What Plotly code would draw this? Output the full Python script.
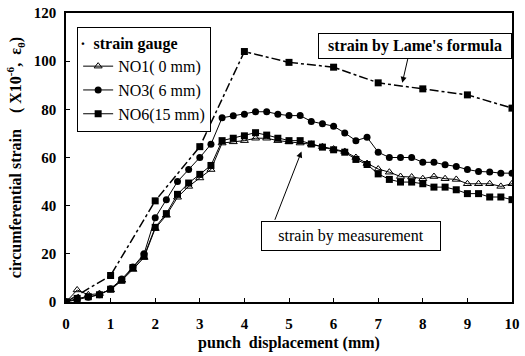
import plotly.graph_objects as go

disp = [0, 0.25, 0.5, 0.75, 1, 1.25, 1.5, 1.75, 2, 2.25, 2.5, 2.75, 3, 3.25, 3.5, 3.75,
        4, 4.25, 4.5, 4.75, 5, 5.25, 5.5, 5.75, 6, 6.25, 6.5, 6.75, 7, 7.25, 7.5, 7.75,
        8, 8.25, 8.5, 8.75, 9, 9.25, 9.5, 9.75, 10]

no1 = [0, 5, 3, 3.5, 5, 9, 13.5, 18.5, 30.5, 36, 43.5, 48, 51.5, 55, 66, 66.5,
       67, 68, 68, 67, 66.5, 66, 65.5, 64.5, 63.5, 62.5, 60, 57.5, 55.2, 53.9, 52.1, 51.9,
       51.2, 52.1, 51.2, 50.9, 49.1, 49.1, 49.1, 48, 49.1]

no3 = [0, 1, 2, 3, 5.5, 9.5, 14.5, 20, 35, 42.5, 50, 55, 60, 65.5, 76.5, 77.3,
       78, 79, 79, 78, 77.4, 77.4, 75, 74, 73, 70.2, 67, 68.4, 62.2, 60, 60, 60,
       58, 58, 57, 56.3, 55, 54.2, 54, 53.5, 53.5]

no6 = [0, 1.5, 2.2, 3, 5.3, 9, 14.3, 19, 31, 36.7, 44.7, 49.4, 53, 56.7, 67, 68,
       69, 70.3, 69.3, 68, 67, 67, 65.6, 64.3, 63.2, 62.2, 59.2, 57.1, 53.2, 50.9, 49.8, 49.8,
       49.1, 47.7, 47.7, 46.6, 45, 45, 43.6, 43.6, 42.5]

lame_x = [0, 1, 2, 3, 4, 5, 6, 7, 8, 9, 10]
lame_y = [0, 11, 42, 64.5, 104, 99.5, 97.5, 91, 88.5, 86, 80.5]

x_ticks = [0, 1, 2, 3, 4, 5, 6, 7, 8, 9, 10]
y_ticks = [0, 20, 40, 60, 80, 100, 120]

SERIF = "Liberation Serif"

fig = go.Figure()
fig.add_trace(go.Scatter(x=disp, y=no1, mode="lines+markers", name="NO1( 0 mm)",
                         legendrank=1,
                         line=dict(color="black", width=1),
                         marker=dict(symbol="triangle-up-open", size=7, color="black",
                                     line=dict(width=1, color="black"))))
fig.add_trace(go.Scatter(x=disp, y=no6, mode="lines+markers", name="NO6(15 mm)",
                         legendrank=3,
                         line=dict(color="black", width=1),
                         marker=dict(symbol="square", size=7, color="black")))
fig.add_trace(go.Scatter(x=disp, y=no3, mode="lines+markers", name="NO3( 6 mm)",
                         legendrank=2,
                         line=dict(color="black", width=1),
                         marker=dict(symbol="circle", size=7, color="black")))
fig.add_trace(go.Scatter(x=lame_x, y=lame_y, mode="lines+markers", name="Lame",
                         showlegend=False,
                         line=dict(color="black", width=1.5, dash="dashdot"),
                         marker=dict(symbol="square", size=7, color="black")))

fig.update_layout(
    width=525, height=356,
    margin=dict(l=66, r=5, t=12, b=54),
    paper_bgcolor="white", plot_bgcolor="white",
    font=dict(family=SERIF, size=13, color="black"),
    showlegend=True,
    legend=dict(x=0.025, y=0.95, xanchor="left", yanchor="top",
                bgcolor="white", bordercolor="black", borderwidth=1,
                font=dict(family=SERIF, size=16),
                title=dict(text="<b>·  strain gauge</b>", font=dict(family=SERIF, size=16)),
                itemwidth=30),
    xaxis=dict(range=[0, 10], tickvals=x_ticks, ticktext=[str(v) for v in x_ticks],
               showgrid=False, zeroline=False, showline=True, linecolor="black", linewidth=1.5,
               mirror=True, ticks="inside", ticklen=4, tickcolor="black",
               ticklabelstandoff=7, ticklabeloverflow="allow",
               tickfont=dict(family=SERIF, size=15, weight="bold"),
               title=dict(text="<b>punch  displacement (mm)</b>", font=dict(family=SERIF, size=16),
                          standoff=6)),
    yaxis=dict(range=[0, 120], tickvals=y_ticks, ticktext=[str(v) for v in y_ticks],
               showgrid=False, zeroline=False, showline=True, linecolor="black", linewidth=1.5,
               mirror=True, ticks="inside", ticklen=4, tickcolor="black",
               ticklabelstandoff=5, ticklabeloverflow="allow",
               tickfont=dict(family=SERIF, size=15, weight="bold"),
               title=dict(text="<b>circumferential strain    ( X10<sup>-6</sup>,  ε<sub>θ</sub>)</b>",
                          font=dict(family=SERIF, size=16), standoff=8)),
)

# arrow: measurement
fig.add_annotation(x=5.28, y=62.5, xref="x", yref="y",
                   ax=4.67, ay=33.5, axref="x", ayref="y",
                   text="", showarrow=True, arrowhead=2, arrowsize=1.2, arrowwidth=1,
                   arrowcolor="black")
# arrow: Lame
fig.add_annotation(x=7.54, y=91, xref="x", yref="y",
                   ax=7.67, ay=101.5, axref="x", ayref="y",
                   text="", showarrow=True, arrowhead=2, arrowsize=1.2, arrowwidth=1,
                   arrowcolor="black")
fig.add_annotation(x=7.83, y=106.5, xref="x", yref="y", text="<b>strain by Lame's formula</b>",
                   showarrow=False, font=dict(family=SERIF, size=16),
                   bordercolor="black", borderwidth=1, borderpad=3, bgcolor="white",
                   width=186)
fig.add_annotation(x=6.39, y=27.3, xref="x", yref="y", text="strain by measurement",
                   showarrow=False, font=dict(family=SERIF, size=16),
                   bordercolor="black", borderwidth=1, borderpad=5, bgcolor="white",
                   width=168)

fig.write_html("out.html")
